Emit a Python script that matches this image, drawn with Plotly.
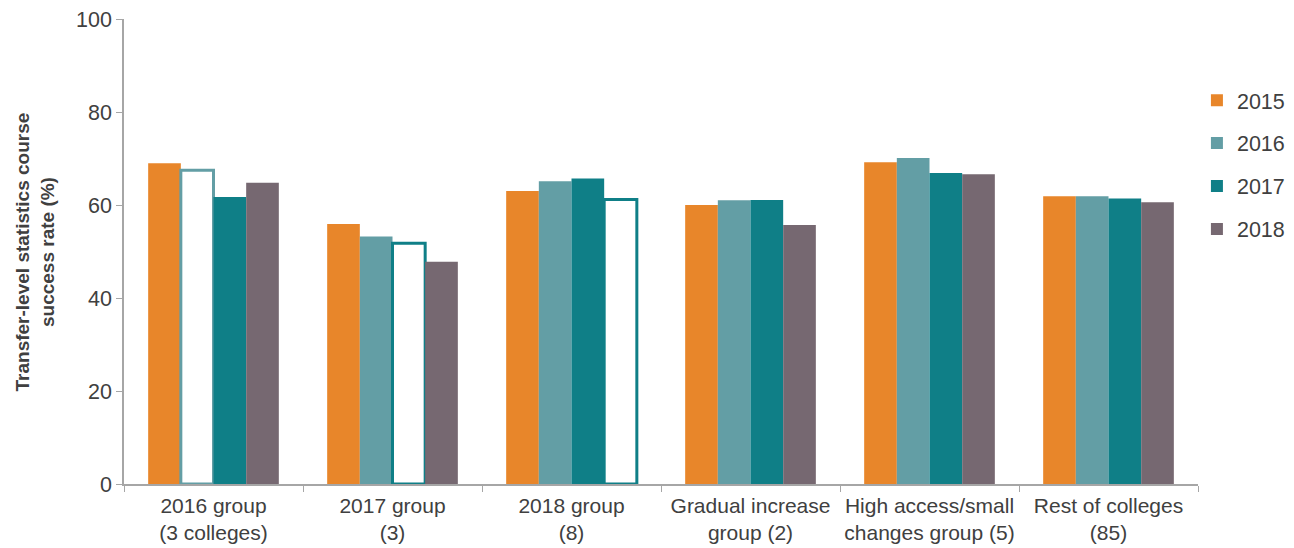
import plotly.graph_objects as go

# Groups of colleges (x-axis categories)
groups = [
    "2016 group<br>(3 colleges)",
    "2017 group<br>(3)",
    "2018 group<br>(8)",
    "Gradual increase<br>group (2)",
    "High access/small<br>changes group (5)",
    "Rest of colleges<br>(85)",
]

years = ["2015", "2016", "2017", "2018"]

# Transfer-level statistics course success rate (%) by year
rate_2015 = [69.0, 55.9, 63.0, 60.0, 69.2, 61.9]
rate_2016 = [67.5, 53.2, 65.1, 61.0, 70.1, 61.9]
rate_2017 = [61.7, 51.8, 65.7, 61.1, 66.9, 61.4]
rate_2018 = [64.8, 47.8, 61.2, 55.7, 66.6, 60.6]

# Year in which each group started the change (drawn as a hollow bar)
start_year = ["2016", "2017", "2018", None, None, None]

colors = {
    "2015": "#E8862A",
    "2016": "#639EA5",
    "2017": "#0F7F87",
    "2018": "#766871",
}

# Outline colour of the hollow bar for each start year
hollow_edge = {
    "2016": "#639EA5",
    "2017": "#0F7F87",
    "2018": "#0F7F87",
}

series = dict(zip(years, [rate_2015, rate_2016, rate_2017, rate_2018]))

fig = go.Figure()

for yr in years:
    c = colors[yr]
    hollow = [s == yr for s in start_year]
    fig.add_trace(go.Bar(
        x=groups,
        y=series[yr],
        name=yr,
        showlegend=False,
        marker=dict(
            color=["#FFFFFF" if h else c for h in hollow],
            line=dict(
                color=hollow_edge.get(yr, c),
                width=[3 if h else 0 for h in hollow],
            ),
        ),
    ))

# Legend entries as solid squares
for i, yr in enumerate(years):
    fig.add_trace(go.Scatter(
        x=[None], y=[None], mode="markers", name=yr,
        legendgroup=f"g{i}",
        marker=dict(symbol="square", size=12, color=colors[yr]),
    ))

text_color = "#404040"
axis_color = "#A6A6A6"
fsize = 21

fig.update_layout(
    width=1294,
    height=548,
    margin=dict(l=124, r=96, t=19, b=64, autoexpand=False),
    paper_bgcolor="white",
    plot_bgcolor="white",
    barmode="group",
    bargap=0.27,
    bargroupgap=0,
    font=dict(family="Liberation Sans, Arial, sans-serif", size=fsize, color=text_color),
    legend=dict(
        x=0.999, xanchor="left",
        y=0.8695, yanchor="top",
        font=dict(size=21.5, color=text_color),
        tracegroupgap=12,
        itemwidth=30,
        bgcolor="rgba(0,0,0,0)",
    ),
    xaxis=dict(
        showline=True, linecolor=axis_color, linewidth=1.5,
        ticks="outside", tickson="boundaries", ticklen=6, tickcolor=axis_color,
        tickfont=dict(size=fsize, color=text_color),
        tickangle=0, automargin=False,
        ticklabelstandoff=2,
        showgrid=False,
    ),
    yaxis=dict(
        range=[0, 100], dtick=20,
        showline=True, linecolor=axis_color, linewidth=1.5,
        ticks="outside", ticklen=6, tickcolor=axis_color,
        tickfont=dict(size=21.5, color=text_color),
        automargin=False,
        showgrid=False, zeroline=False,
    ),
    annotations=[dict(
        text="<b>Transfer-level statistics course<br>success rate (%)</b>",
        xref="paper", yref="paper",
        x=-0.0829, y=0.5, xanchor="center", yanchor="middle",
        textangle=-90, showarrow=False,
        font=dict(size=19, color=text_color),
    )],
)

fig.write_html("out.html")
